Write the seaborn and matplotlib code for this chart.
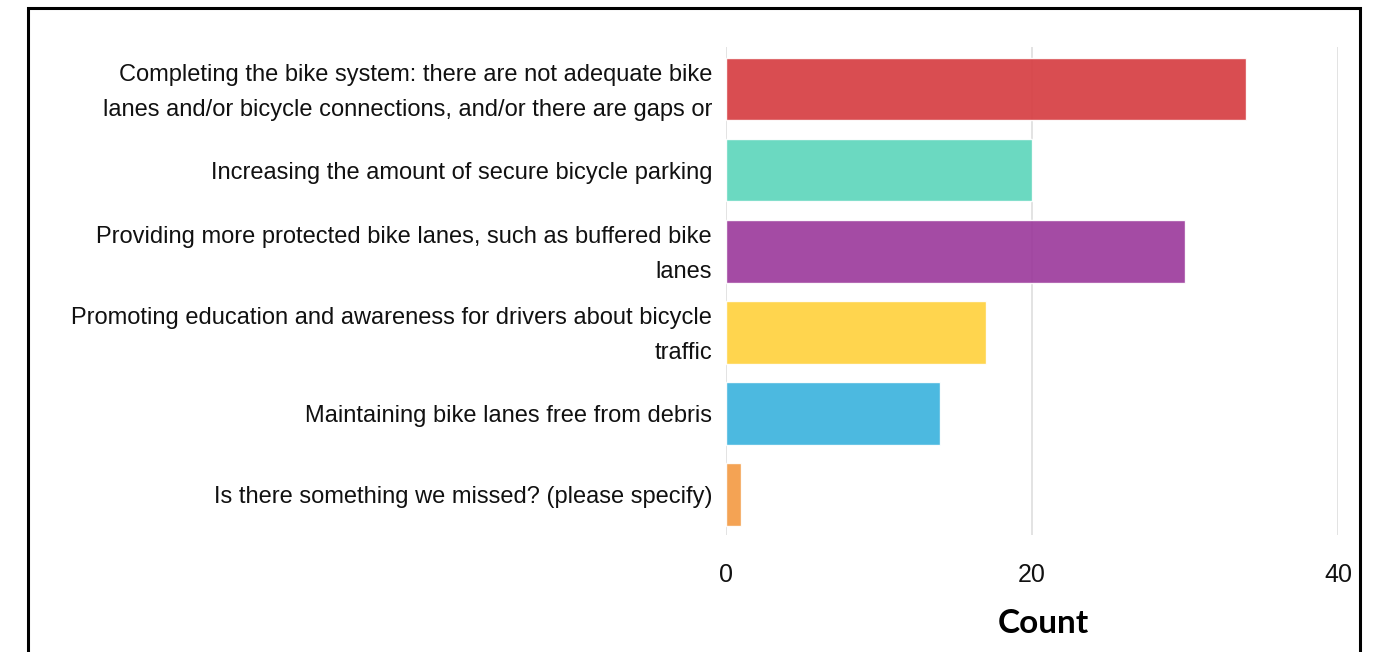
import matplotlib
matplotlib.use("Agg")
import matplotlib.pyplot as plt
import matplotlib.patches as mpatches
import matplotlib.transforms as mtransforms
import pandas as pd
import seaborn as sns

# ---------- data ----------
categories = [
    "Completing the bike system: there are not adequate bike\nlanes and/or bicycle connections, and/or there are gaps or",
    "Increasing the amount of secure bicycle parking",
    "Providing more protected bike lanes, such as buffered bike\nlanes",
    "Promoting education and awareness for drivers about bicycle\ntraffic",
    "Maintaining bike lanes free from debris",
    "Is there something we missed? (please specify)",
]
counts = [34, 20, 30, 17, 14, 1]
bar_colors = ["#D63E42", "#5ED6BC", "#9C3B9C", "#FFD23F", "#3DB3DE", "#F49B45"]
x_ticks = [0, 20, 40]

df = pd.DataFrame({"Category": categories, "Count": counts})

sns.set_theme(style="white")
plt.rcParams["font.family"] = ["Liberation Sans", "DejaVu Sans"]

fig = plt.figure(figsize=(13.76, 6.52), dpi=100)
ax = fig.add_axes([0.5276, 0.1794, 0.4448, 0.7485])

sns.barplot(data=df, x="Count", y="Category", hue="Category", palette=bar_colors,
            legend=False, width=0.77, saturation=1, alpha=0.92, ax=ax, zorder=2)

ax.set_xlim(0, 40)
ax.set_ylim(5.5, -0.52)
ax.set_xticks(x_ticks)
ax.set_xticklabels([str(t) for t in x_ticks], fontsize=18, color="#111111")
ax.tick_params(axis="x", length=0, pad=20)
ax.tick_params(axis="y", length=0, pad=10, labelsize=17, labelcolor="#111111")

# two-line labels sit a little higher in the original
shift_up = mtransforms.ScaledTranslation(0, 6 / 100, fig.dpi_scale_trans)
for lbl in ax.get_yticklabels():
    lbl.set_horizontalalignment("right")
    lbl.set_multialignment("right")
    lbl.set_linespacing(1.8)
    if "\n" in lbl.get_text():
        lbl.set_transform(lbl.get_transform() + shift_up)

for t in x_ticks:
    ax.axvline(t, color="#dedede", linewidth=1.2, zorder=1)

for s in ax.spines.values():
    s.set_visible(False)

ax.set_ylabel("")
ax.set_xlabel("")
fig.text(0.758, 0.043, "Count", fontsize=24, fontweight="bold",
         family=["Lato", "DejaVu Sans"], ha="center", va="center", color="black")

# outer frame (bottom edge cut off in the original)
frame = mpatches.Rectangle((28 / 1376, -0.05), (1360 - 28) / 1376, 1.05 - 8 / 652,
                           transform=fig.transFigure, fill=False,
                           edgecolor="black", linewidth=2.2)
fig.patches.append(frame)

fig.savefig("out.png", dpi=100)
plt.close(fig)
